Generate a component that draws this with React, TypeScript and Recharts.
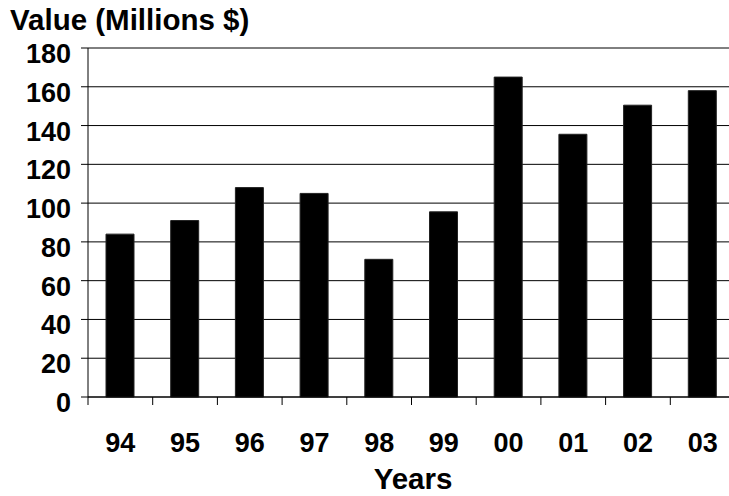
import React from 'react'
import { BarChart, Bar, XAxis, YAxis, CartesianGrid } from 'recharts'

const years = ['94', '95', '96', '97', '98', '99', '00', '01', '02', '03']
const values = [84, 91, 108, 105, 71, 95.5, 165, 135.5, 150.5, 158]
const yTicks = [0, 20, 40, 60, 80, 100, 120, 140, 160, 180]

const FONT = '"Liberation Sans", Arial, sans-serif'

const data = years.map((year, i) => ({ year, value: values[i] }))

// tick mark sits on the category boundary, label in the middle
const XTick = (props: any) => {
  const { x, y, payload } = props
  const half = payload && payload.offset != null ? payload.offset : 32.35
  return (
    <g>
      <line x1={x - half} x2={x - half} y1={y} y2={y + 8} stroke="#000" strokeWidth={1} />
      <text x={x} y={y + 55} textAnchor="middle" fontFamily={FONT} fontWeight="bold" fontSize={27} fill="#000">
        {payload.value}
      </text>
    </g>
  )
}

const YTick = (props: any) => {
  const { x, y, payload } = props
  return (
    <text x={x} y={y + 15} textAnchor="end" fontFamily={FONT} fontWeight="bold" fontSize={27} fill="#000">
      {payload.value}
    </text>
  )
}

export default function App() {
  return (
    <div style={{ position: 'absolute', left: 0, top: 0, width: 729, height: 496, overflow: 'hidden', background: '#fff' }}>
      <BarChart
        width={745}
        height={496}
        data={data}
        margin={{ top: 48, right: 10, left: 0, bottom: 0 }}
        barSize={28}
      >
        <CartesianGrid vertical={false} stroke="#000" strokeWidth={1} />
        <XAxis
          dataKey="year"
          height={99}
          axisLine={{ stroke: '#000', strokeWidth: 1 }}
          tickLine={false}
          tickSize={0}
          tickMargin={0}
          interval={0}
          tick={<XTick />}
          label={{
            content: () => (
              <text x={413} y={489} textAnchor="middle" fontFamily={FONT} fontWeight="bold" fontSize={29.5} fill="#000">
                Years
              </text>
            ),
          }}
        />
        <YAxis
          width={88}
          domain={[0, 180]}
          ticks={yTicks}
          interval={0}
          axisLine={{ stroke: '#000', strokeWidth: 1 }}
          tickLine={{ stroke: '#000', strokeWidth: 1 }}
          tickSize={7}
          tickMargin={10}
          tick={<YTick />}
          label={{
            content: () => (
              <text x={10} y={30} fontFamily={FONT} fontWeight="bold" fontSize={29.5} fill="#000">
                Value (Millions $)
              </text>
            ),
          }}
        />
        <Bar dataKey="value" fill="#000" stroke="#222" strokeWidth={1} isAnimationActive={false} />
      </BarChart>
    </div>
  )
}
